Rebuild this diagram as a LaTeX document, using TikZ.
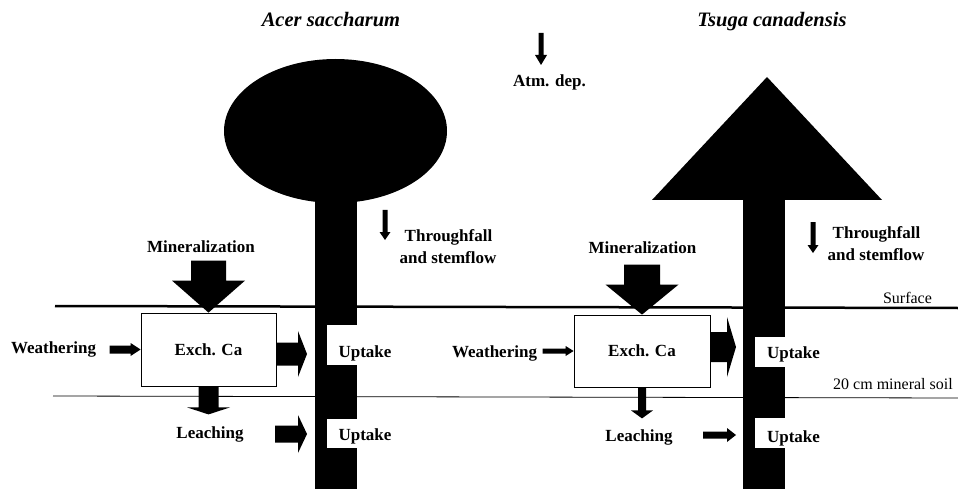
\documentclass[tikz,border=0pt]{standalone}
\usepackage{fontspec}
\setmainfont{Liberation Serif}
\usetikzlibrary{calc}
% block arrow pointing down: tip, shaft width, head width, head length, shaft length
\newcommand{\blkdown}[5]{\fill (#1) -- ++({-(#3)/2},{-(#4)}) -- ++({((#3)-(#2))/2},0) -- ++(0,{-(#5)}) -- ++({#2},0) -- ++(0,{#5}) -- ++({((#3)-(#2))/2},0) -- cycle;}
% block arrow pointing right: tip, shaft thickness, head width, head length, shaft length
\newcommand{\blkright}[5]{\fill (#1) -- ++({-(#4)},{-(#3)/2}) -- ++(0,{((#3)-(#2))/2}) -- ++({-(#5)},0) -- ++(0,{#2}) -- ++({#5},0) -- ++(0,{((#3)-(#2))/2}) -- cycle;}
\begin{document}
\begin{tikzpicture}[x=1pt,y=-1pt,
  lbl/.style={font=\fontsize{17}{20}\selectfont\bfseries, inner sep=0pt, anchor=base},
  ttl/.style={font=\fontsize{20.5}{24}\selectfont\bfseries\itshape, inner sep=0pt, anchor=base},
  plain/.style={font=\fontsize{16}{19}\selectfont, inner sep=0pt, anchor=base},
  poolbox/.style={draw, line width=0.8pt, fill=white, inner sep=0pt, font=\fontsize{17}{20}\selectfont\bfseries},
  notch/.style={fill=white}]
\useasboundingbox (0,0) rectangle (958,489);

% soil lines
\draw[line width=2.5pt] (55,306) -- (958,308);
\draw[line width=0.8pt] (53,396) -- (958,398);

% trees
\fill (335.5,131) ellipse [x radius=111.5pt, y radius=72pt];
\fill (315,190) rectangle (357,489);
\fill (767,77) -- (652,200) -- (882,200) -- cycle;
\fill (743,199) rectangle (785,489);
\fill[notch] (327,325) rectangle (359,365);
\fill[notch] (327,419) rectangle (359,448);
\fill[notch] (755,337) rectangle (787,367);
\fill[notch] (755,418) rectangle (787,448);

% titles and labels
\node[ttl] (t1) at (331,27) {Acer saccharum};
\node[ttl] (t2) at (772,27) {Tsuga canadensis};
\node[lbl] (atm) at (549.5,87) {Atm. dep.};
\node[lbl] (tfa1) at (448.5,241) {Throughfall};
\node[lbl] (tfb1) at (448,263) {and stemflow};
\node[lbl] (tfa2) at (876.5,238) {Throughfall};
\node[lbl] (tfb2) at (876,260) {and stemflow};
\node[plain] (surf) at (907.5,303) {Surface};
\node[plain] (soil) at (893,389) {20 cm mineral soil};

% left stand
\node[lbl] (min1) at (201,252) {Mineralization};
\node[poolbox, minimum width=135pt, minimum height=73pt] (box1) at (208.5,349.5) {Exch. Ca};
\node[lbl] (w1) at (53.5,353) {Weathering};
\node[lbl] (le1) at (210,438) {Leaching};
\node[lbl] (up1) at (365,357) {Uptake};
\node[lbl] (up2) at (365,440) {Uptake};

% right stand
\node[lbl] (min2) at (642.5,253) {Mineralization};
\node[poolbox, minimum width=136pt, minimum height=72pt] (box2) at (642,351) {Exch. Ca};
\node[lbl] (w2) at (494.5,357) {Weathering};
\node[lbl] (le2) at (639,441) {Leaching};
\node[lbl] (up3) at (793.5,358) {Uptake};
\node[lbl] (up4) at (793.5,442) {Uptake};

% arrow tip coordinates
\coordinate (atmtip) at (541,65);
\coordinate (tf1tip) at (385,240);
\coordinate (tf2tip) at (813,253);
\coordinate (le1tip) at ($(box1.south)+(0,28)$);
\coordinate (le2tip) at ($(box2.south)+(0,31)$);
\coordinate (u1tip) at (307,354);
\coordinate (u2tip) at (307,434);
\coordinate (u3tip) at (736,347);
\coordinate (u4tip) at (736,435);

% arrows
\blkdown{atmtip}{5}{12}{10}{22}
\blkdown{tf1tip}{5}{11}{8}{22}
\blkdown{tf2tip}{5}{11}{8}{23}

\blkdown{box1.north}{35}{73}{32}{20}
\blkdown{le1tip}{20}{43}{7}{21}
\blkright{box1.west}{8}{13}{10}{21}
\blkright{u1tip}{23}{46}{9}{22}
\blkright{u2tip}{17}{38}{9}{23}

\blkdown{box2.north}{36}{73}{30}{20}
\blkdown{le2tip}{8}{22}{8}{23}
\blkright{box2.west}{5}{10}{8}{23}
\blkright{u3tip}{30}{60}{9}{17}
\blkright{u4tip}{7}{14}{9}{24}
\end{tikzpicture}
\end{document}
